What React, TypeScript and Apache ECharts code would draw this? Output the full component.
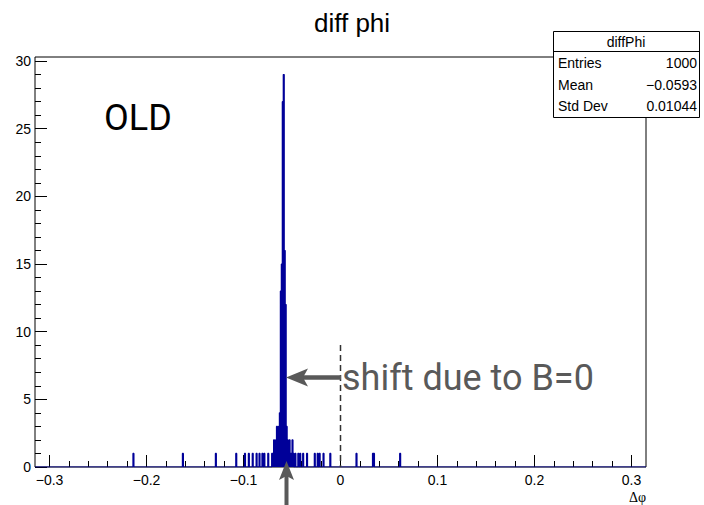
import React, { useEffect, useRef } from "react";
import * as echarts from "echarts";

// ---- data ----
const binWidth = 0.001;
// lower edges of non-empty bins
const binStarts = [
  -0.214, -0.163, -0.129, -0.108, -0.099, -0.095, -0.091, -0.087, -0.084, -0.081, -0.079, -0.075,
  -0.071, -0.070, -0.069, -0.068, -0.067, -0.066, -0.065, -0.064, -0.063, -0.062, -0.061, -0.060,
  -0.059, -0.058, -0.057, -0.056, -0.055, -0.054, -0.053, -0.052, -0.051, -0.050, -0.049,
  -0.047, -0.044, -0.042, -0.039, -0.035, -0.027, -0.024, -0.022, -0.018, -0.011,
  0.016, 0.033, 0.034, 0.061,
];
const binCounts = [
  1, 1, 1, 1, 1, 1, 1, 1, 1, 1, 1, 1,
  1, 1, 2, 1, 2, 3, 2, 3, 4, 13, 15, 27,
  29, 16, 12, 3, 2, 1, 2, 1, 1, 2, 1,
  1, 1, 1, 1, 1, 1, 1, 1, 1, 1,
  1, 1, 1, 1,
];

const xMajorTicks = [-0.3, -0.2, -0.1, 0, 0.1, 0.2, 0.3];
const xMinorTicks = [
  -0.28, -0.26, -0.24, -0.22, -0.18, -0.16, -0.14, -0.12, -0.08, -0.06, -0.04, -0.02,
  0.02, 0.04, 0.06, 0.08, 0.12, 0.14, 0.16, 0.18, 0.22, 0.24, 0.26, 0.28,
];
const yMajorTicks = [0, 5, 10, 15, 20, 25, 30];
const yMinorTicks = [
  1, 2, 3, 4, 6, 7, 8, 9, 11, 12, 13, 14, 16, 17, 18, 19, 21, 22, 23, 24, 26, 27, 28, 29,
];

const statsTitle = "diffPhi";
const statsLabels = ["Entries", "Mean", "Std Dev"];
const statsValues = ["1000", "\u22120.0593", "0.01044"];

const X_MIN = -0.315;
const X_MAX = 0.315;
const Y_MAX = 30.3;

const HELV = "Liberation Sans, Arial, Helvetica, sans-serif";
const ROBOTO = "Roboto, Noto Sans, sans-serif";
const GREY = "#595959";

function buildOutline(): number[][] {
  const pts: number[][] = [[X_MIN, 0]];
  for (let i = 0; i < binStarts.length; i++) {
    const lo = binStarts[i];
    const hi = lo + binWidth;
    pts.push([lo, 0], [lo, binCounts[i]], [hi, binCounts[i]], [hi, 0]);
  }
  pts.push([X_MAX, 0]);
  return pts;
}

function fmtX(v: number): string {
  if (Math.abs(v) < 1e-9) return "0";
  const s = Math.abs(v).toFixed(1);
  return (v < 0 ? "\u2212" : "") + s;
}

export default function App() {
  const ref = useRef<HTMLDivElement>(null);

  useEffect(() => {
    if (!ref.current) return;
    const chart = echarts.init(ref.current, undefined, { renderer: "svg" });

    const tickStyle = { color: "#000", width: 1 };
    const noLine = { show: false, onZero: false };

    const option: any = {
      animation: false,
      backgroundColor: "#fff",
      title: {
        text: "diff phi",
        left: "center",
        top: 5,
        textStyle: { fontFamily: HELV, fontSize: 26, fontWeight: "normal", color: "#000" },
      },
      grid: {
        left: 35,
        right: 58,
        top: 57,
        bottom: 38,
        show: true,
        borderColor: "#000",
        borderWidth: 1,
        backgroundColor: "transparent",
        containLabel: false,
        outerBoundsMode: "none",
      },
      xAxis: [
        {
          type: "value",
          min: X_MIN,
          max: X_MAX,
          position: "bottom",
          axisLine: noLine,
          splitLine: { show: false },
          axisTick: { show: true, inside: true, length: 12, lineStyle: tickStyle, customValues: xMajorTicks },
          axisLabel: {
            show: true,
            customValues: xMajorTicks,
            formatter: fmtX,
            fontFamily: HELV,
            fontSize: 14,
            color: "#000",
            margin: 6,
          },
        },
        {
          type: "value",
          min: X_MIN,
          max: X_MAX,
          position: "bottom",
          axisLine: noLine,
          splitLine: { show: false },
          axisTick: { show: true, inside: true, length: 6, lineStyle: tickStyle, customValues: xMinorTicks },
          axisLabel: { show: false },
        },
      ],
      yAxis: [
        {
          type: "value",
          min: 0,
          max: Y_MAX,
          position: "left",
          axisLine: noLine,
          splitLine: { show: false },
          axisTick: { show: true, inside: true, length: 12, lineStyle: tickStyle, customValues: yMajorTicks },
          axisLabel: {
            show: true,
            customValues: yMajorTicks,
            fontFamily: HELV,
            fontSize: 14,
            color: "#000",
            margin: 4,
          },
        },
        {
          type: "value",
          min: 0,
          max: Y_MAX,
          position: "left",
          axisLine: noLine,
          splitLine: { show: false },
          axisTick: { show: true, inside: true, length: 6, lineStyle: tickStyle, customValues: yMinorTicks },
          axisLabel: { show: false },
        },
      ],
      series: [
        {
          type: "line",
          xAxisIndex: 0,
          yAxisIndex: 0,
          data: buildOutline(),
          showSymbol: false,
          symbol: "none",
          lineStyle: { color: "#000099", width: 1.2 },
          clip: true,
          z: 3,
        },
      ],
      graphic: [
        // stats box
        {
          type: "rect",
          shape: { x: 553.5, y: 31.5, width: 146, height: 86 },
          style: { fill: "#fff", stroke: "#000", lineWidth: 1 },
          z: 10,
        },
        {
          type: "line",
          shape: { x1: 553.5, y1: 51.5, x2: 699.5, y2: 51.5 },
          style: { stroke: "#000", lineWidth: 1 },
          z: 11,
        },
        {
          type: "text",
          x: 626,
          y: 41.5,
          style: { text: statsTitle, fill: "#000", font: `14px ${HELV}`, textAlign: "center", textVerticalAlign: "middle" },
          z: 11,
        },
        ...statsLabels.map((t, i) => ({
          type: "text",
          x: 558,
          y: 63 + i * 21.5,
          style: { text: t, fill: "#000", font: `14px ${HELV}`, textAlign: "left", textVerticalAlign: "middle" },
          z: 11,
        })),
        ...statsValues.map((t, i) => ({
          type: "text",
          x: 697,
          y: 63 + i * 21.5,
          style: { text: t, fill: "#000", font: `14px ${HELV}`, textAlign: "right", textVerticalAlign: "middle" },
          z: 11,
        })),
        // annotations
        {
          type: "text",
          x: 104,
          y: 118,
          style: { text: "OLD", fill: "#000", font: `36px ${ROBOTO}`, textAlign: "left", textVerticalAlign: "middle" },
          z: 11,
        },
        {
          type: "text",
          x: 342,
          y: 378,
          style: { text: "shift due to B=0", fill: GREY, font: `36px ${ROBOTO}`, textAlign: "left", textVerticalAlign: "middle" },
          z: 11,
        },
        {
          type: "line",
          shape: { x1: 340.5, y1: 345, x2: 340.5, y2: 467 },
          style: { stroke: "#333", lineWidth: 1.5, lineDash: [6, 4] },
          z: 4,
        },
        {
          type: "line",
          shape: { x1: 341, y1: 377.5, x2: 300, y2: 377.5 },
          style: { stroke: GREY, lineWidth: 4.5 },
          z: 12,
        },
        {
          type: "polygon",
          shape: { points: [[286, 377.5], [308, 368.5], [303, 377.5], [308, 386.5]] },
          style: { fill: GREY },
          z: 12,
        },
        {
          type: "line",
          shape: { x1: 286.5, y1: 505, x2: 286.5, y2: 474 },
          style: { stroke: GREY, lineWidth: 4 },
          z: 12,
        },
        {
          type: "polygon",
          shape: { points: [[286.5, 461], [279, 480], [286.5, 476], [294, 480]] },
          style: { fill: GREY },
          z: 12,
        },
        {
          type: "text",
          x: 646,
          y: 497,
          style: { text: "\u0394\u03c6", fill: "#000", font: `14px "Liberation Serif", "DejaVu Serif", serif`, textAlign: "right", textVerticalAlign: "middle" },
          z: 11,
        },
      ],
    };

    chart.setOption(option);
    return () => chart.dispose();
  }, []);

  return (
    <div
      ref={ref}
      style={{ position: "fixed", left: 0, top: 0, width: 704, height: 505, background: "#fff" }}
    />
  );
}
